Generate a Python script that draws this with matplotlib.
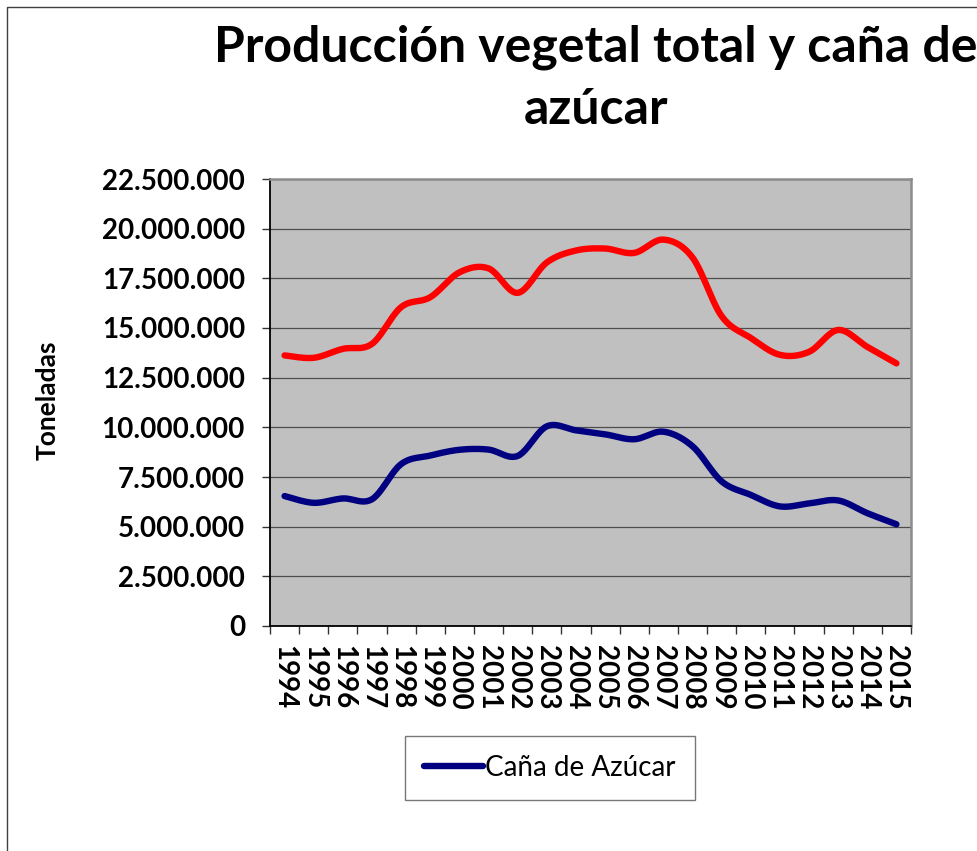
import numpy as np
import matplotlib
matplotlib.use("Agg")
import matplotlib.pyplot as plt
from matplotlib.lines import Line2D
from matplotlib.ticker import FuncFormatter

plt.rcParams["font.family"] = ["Lato", "DejaVu Sans"]

# Data (toneladas)
years = [str(y) for y in range(1994, 2016)]
total_vegetal = [13.62, 13.50, 13.95, 14.20, 16.05, 16.55, 17.80, 18.00, 16.77, 18.30,
                 18.90, 19.00, 18.78, 19.45, 18.55, 15.60, 14.50, 13.65, 13.80, 14.90,
                 14.05, 13.22]
cana_azucar = [6.54, 6.20, 6.42, 6.38, 8.15, 8.58, 8.87, 8.88, 8.56, 10.05,
               9.85, 9.65, 9.40, 9.78, 9.05, 7.28, 6.60, 6.02, 6.17, 6.32,
               5.68, 5.12]
total_vegetal = [v * 1e6 for v in total_vegetal]
cana_azucar = [v * 1e6 for v in cana_azucar]


def smooth(x, y, n=24):
    # Bezier smoothing like the spreadsheet "smoothed line" option
    pts = np.column_stack([x, y]).astype(float)
    P = np.vstack([pts[0], pts, pts[-1]])
    t = np.linspace(0, 1, n, endpoint=False)[:, None]
    segs = []
    for i in range(1, len(P) - 2):
        p0, p1, p2, p3 = P[i - 1], P[i], P[i + 1], P[i + 2]
        c1 = p1 + (p2 - p0) / 6
        c2 = p2 - (p3 - p1) / 6
        segs.append((1 - t) ** 3 * p1 + 3 * (1 - t) ** 2 * t * c1
                    + 3 * (1 - t) * t ** 2 * c2 + t ** 3 * p2)
    segs.append(pts[-1:])
    s = np.vstack(segs)
    return s[:, 0], s[:, 1]


fig = plt.figure(figsize=(9.78, 8.51), dpi=100)
ax = fig.add_axes([270 / 978, 1 - 626 / 851, 641 / 978, 447 / 851])
ax.set_facecolor("#c0c0c0")

x = np.arange(len(years))
sx, sy = smooth(x, total_vegetal)
ax.plot(sx, sy, color="#ff0000", lw=4.6, solid_capstyle="round", zorder=3)
sx, sy = smooth(x, cana_azucar)
ax.plot(sx, sy, color="#000080", lw=4.6, solid_capstyle="round", zorder=3)

ax.set_xlim(-0.5, len(years) - 0.5)
ax.set_ylim(0, 22500000)
ax.set_yticks(np.arange(0, 22500001, 2500000))
ax.yaxis.set_major_formatter(FuncFormatter(lambda v, p: f"{int(v):,}".replace(",", ".")))
ax.grid(axis="y", color="#4d4d4d", lw=0.9)
ax.set_axisbelow(True)

ax.set_xticks(x)
ax.set_xticklabels(years, rotation=270, fontsize=20, fontweight="bold")
ax.set_xticks(np.arange(-0.5, len(years)), minor=True)
ax.tick_params(axis="x", which="major", length=0, pad=14)
ax.tick_params(axis="x", which="minor", length=6, width=1, color="#333333")
ax.tick_params(axis="y", length=6, width=1, pad=12, labelsize=20, color="#333333")
for lab in ax.get_yticklabels():
    lab.set_fontweight("bold")

for side in ["left", "bottom"]:
    ax.spines[side].set_color("black")
    ax.spines[side].set_linewidth(1.3)
for side in ["top", "right"]:
    ax.spines[side].set_color("#8c8c8c")
    ax.spines[side].set_linewidth(1.8)

fig.text(48 / 978, 1 - 400 / 851, "Toneladas", rotation=90, ha="center", va="center",
         fontsize=19, fontweight="bold")
fig.text(596 / 978, 1 - 47 / 851, "Producción vegetal total y caña de", ha="center",
         va="center", fontsize=36, fontweight="bold")
fig.text(596 / 978, 1 - 110 / 851, "azúcar", ha="center", va="center",
         fontsize=36, fontweight="bold")

handle = Line2D([], [], color="#000080", lw=4.6, solid_capstyle="round")
leg = fig.legend([handle], ["Caña de Azúcar"], loc="center",
                 bbox_to_anchor=(550 / 978, 1 - 768 / 851), fontsize=20,
                 frameon=True, fancybox=False, handlelength=2.1, handletextpad=0.1,
                 borderpad=0.7, borderaxespad=0)
leg.get_frame().set_edgecolor("#555555")
leg.get_frame().set_linewidth(1)

# outer chart border (cropped at right and bottom)
fig.add_artist(Line2D([7 / 978, 7 / 978, 1], [0, 1 - 7 / 851, 1 - 7 / 851],
                      transform=fig.transFigure, color="#404040", lw=1))

fig.savefig("out.png", dpi=100)
